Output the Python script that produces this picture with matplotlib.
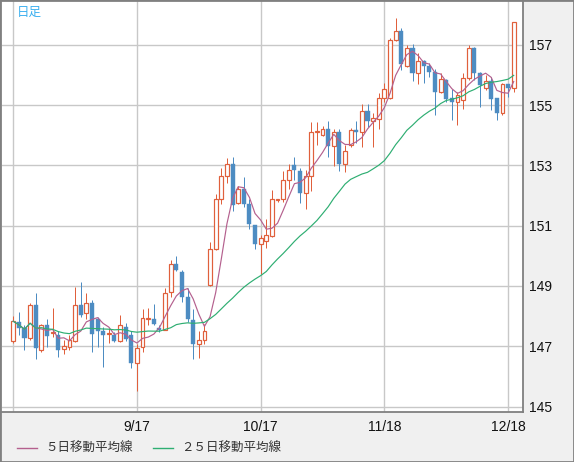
import matplotlib
matplotlib.use("Agg")
import matplotlib.pyplot as plt
import numpy as np
import pandas as pd
from matplotlib.lines import Line2D
from matplotlib.patches import Rectangle

# ---- data ----
opens = [147.17, 147.81, 147.59, 147.28, 148.36, 146.86, 147.70, 147.43, 147.39, 146.92,
         146.99, 147.19, 148.36, 148.09, 148.42, 147.89, 147.50, 147.42, 147.39, 147.18,
         147.64, 147.36, 146.45, 146.96, 147.90, 147.90, 147.62, 147.55, 148.80, 149.74,
         149.46, 148.62, 147.86, 147.06, 147.22, 149.03, 150.24, 151.87, 152.64, 153.03,
         151.76, 152.20, 151.71, 151.02, 150.38, 150.49, 150.65, 151.84, 151.90, 152.53,
         153.01, 152.82, 152.07, 152.64, 154.09, 154.00, 154.20, 153.65, 154.11, 153.06,
         153.67, 154.17, 154.11, 154.80, 154.48, 154.53, 155.22, 155.22, 157.16, 157.46,
         156.29, 156.88, 156.05, 156.46, 156.29, 156.11, 155.44, 155.83, 155.22, 155.11,
         155.17, 155.89, 156.88, 156.05, 155.55, 155.80, 155.22, 154.72, 155.70, 155.55]
highs = [148.00, 148.12, 147.70, 148.44, 148.78, 147.75, 147.92, 148.28, 147.50, 147.20,
         147.39, 148.97, 149.12, 148.77, 148.53, 147.97, 147.64, 147.59, 147.48, 148.05,
         147.76, 147.50, 147.06, 148.25, 148.26, 148.39, 147.72, 148.92, 149.85, 149.99,
         149.52, 148.92, 148.22, 147.51, 147.75, 150.46, 152.04, 152.90, 153.23, 153.28,
         152.31, 152.60, 151.87, 151.02, 150.68, 151.21, 152.18, 151.90, 152.82, 153.06,
         153.27, 152.90, 152.85, 154.43, 154.45, 154.30, 154.47, 154.19, 154.19, 153.67,
         154.25, 154.48, 155.02, 155.02, 154.72, 155.39, 155.74, 157.21, 157.88, 157.55,
         156.99, 157.02, 156.72, 156.49, 156.38, 156.18, 156.05, 155.85, 155.53, 155.44,
         156.05, 156.99, 156.92, 156.11, 156.00, 155.94, 155.22, 155.72, 155.70, 157.74]
lows = [147.11, 147.37, 146.87, 147.22, 146.57, 146.81, 146.98, 147.32, 146.64, 146.73,
        146.87, 147.14, 147.97, 147.92, 146.81, 146.97, 146.31, 147.11, 147.14, 147.13,
        147.19, 146.29, 145.51, 146.81, 147.70, 147.69, 147.47, 147.53, 148.64, 149.50,
        148.47, 147.82, 146.59, 146.62, 147.09, 149.01, 150.19, 151.71, 152.40, 151.48,
        151.71, 151.62, 150.88, 150.21, 149.41, 150.26, 150.61, 151.79, 151.79, 152.23,
        152.53, 151.76, 151.54, 152.16, 153.67, 153.97, 153.26, 152.98, 152.82, 152.79,
        153.62, 153.75, 153.62, 154.28, 153.62, 154.20, 155.11, 155.19, 157.12, 156.16,
        156.27, 155.80, 155.70, 155.74, 155.94, 154.67, 155.39, 155.11, 154.50, 154.34,
        154.87, 155.83, 155.83, 154.92, 155.50, 154.83, 154.50, 154.67, 155.28, 155.44]
closes = [147.83, 147.59, 147.28, 148.36, 146.94, 147.70, 147.34, 147.46, 146.89, 147.01,
          147.20, 148.36, 148.05, 148.42, 147.42, 147.50, 147.39, 147.45, 147.18, 147.72,
          147.25, 146.45, 146.94, 147.95, 147.93, 147.75, 147.53, 148.78, 149.74, 149.54,
          148.62, 147.89, 147.06, 147.22, 147.50, 150.24, 151.87, 152.64, 153.06, 151.68,
          152.20, 151.71, 151.04, 150.38, 150.60, 150.68, 151.87, 151.87, 152.51, 152.86,
          152.85, 152.09, 152.64, 154.09, 154.11, 154.20, 153.65, 154.09, 153.06, 153.47,
          154.17, 154.11, 154.80, 154.48, 154.56, 155.22, 155.52, 157.16, 157.46, 156.35,
          156.88, 156.05, 156.46, 156.29, 156.11, 155.44, 155.85, 155.20, 155.11, 155.33,
          155.89, 156.88, 156.05, 155.66, 155.80, 155.20, 154.72, 155.69, 155.55, 157.74]

date_tick_index = [0, 22, 44, 66, 88]
date_tick_labels = ["", "9/17", "10/17", "11/18", "12/18"]
price_ticks = [145, 147, 149, 151, 153, 155, 157]
legend_labels = ["５日移動平均線", "２５日移動平均線"]
title_text = "日足"

# ---- styles ----
UP = "#e0603c"
DOWN = "#4d8cc2"
MA5C = "#b4608e"
MA25C = "#2eae72"
GRID = "#c8c8c8"
BG = "#f0f0f0"
FRAME = "#808080"

W, H = 574, 462
fig = plt.figure(figsize=(W / 100, H / 100), dpi=100, facecolor=BG)
ax = fig.add_axes([2 / W, (H - 412) / H, (523 - 2) / W, (412 - 1) / H])
ax.set_facecolor("white")

o = np.array(opens); h = np.array(highs); l = np.array(lows); c = np.array(closes)
x = np.arange(len(o))
px = 0.72  # 1 pixel in points

up = c >= o
colors = np.where(up, UP, DOWN)
ax.vlines(x, l, h, colors=colors, linewidth=px, zorder=3)
bottom = np.minimum(o, c)
height = np.maximum(np.abs(c - o), 0.035)
ax.bar(x[up], height[up], bottom=bottom[up], width=0.68, facecolor="white",
       edgecolor=UP, linewidth=px * 1.2, zorder=4)
ax.bar(x[~up], height[~up], bottom=bottom[~up], width=0.72, facecolor=DOWN,
       edgecolor=DOWN, linewidth=0.3, zorder=4)

s = pd.Series(c)
ma5 = s.rolling(5, min_periods=1).mean()
ma25 = s.rolling(25, min_periods=1).mean()
ax.plot(x, ma5, color=MA5C, linewidth=0.85, zorder=5)
ax.plot(x, ma25, color=MA25C, linewidth=0.85, zorder=5)

ax.set_xlim(-2.0, 90.65)
ax.set_ylim(144.82, 158.45)
ax.set_xticks(date_tick_index)
ax.set_xticklabels(date_tick_labels)
ax.set_yticks(price_ticks)
ax.set_yticklabels([str(v) for v in price_ticks])
ax.yaxis.tick_right()
ax.tick_params(axis="both", length=0, labelsize=10, colors="#111111")
ax.tick_params(axis="x", pad=6)
ax.tick_params(axis="y", pad=4)
for lab in ax.get_xticklabels() + ax.get_yticklabels():
    lab.set_fontfamily("Liberation Sans")
ax.grid(True, color=GRID, linewidth=1.0, zorder=0)
ax.set_axisbelow(True)
for side in ["left", "top"]:
    ax.spines[side].set_visible(False)
for side in ["right", "bottom"]:
    ax.spines[side].set_color(FRAME)
    ax.spines[side].set_linewidth(1.3)

ax.text(15 / 521, 1 - 11 / 411, title_text, transform=ax.transAxes, fontsize=9,
        color="#3cb0f0", va="center", ha="left",
        family=["Noto Sans CJK JP", "DejaVu Sans"])

# legend (figure coords)
ly = 1 - 448 / H
fig.add_artist(Line2D([16.5 / W, 36.5 / W], [ly, ly], color=MA5C, linewidth=1.0,
                      transform=fig.transFigure))
fig.text(45 / W, ly, legend_labels[0], fontsize=9, color="#333333", va="center",
         ha="left", family=["Noto Sans CJK JP", "DejaVu Sans"])
fig.add_artist(Line2D([153 / W, 173 / W], [ly, ly], color=MA25C, linewidth=1.0,
                      transform=fig.transFigure))
fig.text(181 / W, ly, legend_labels[1], fontsize=9, color="#333333", va="center",
         ha="left", family=["Noto Sans CJK JP", "DejaVu Sans"])

fig.patches.append(Rectangle((0, 0), 1, 1, transform=fig.transFigure, fill=False,
                             edgecolor=FRAME, linewidth=2.0, zorder=10))

fig.savefig("out.png", dpi=100, facecolor=BG)
